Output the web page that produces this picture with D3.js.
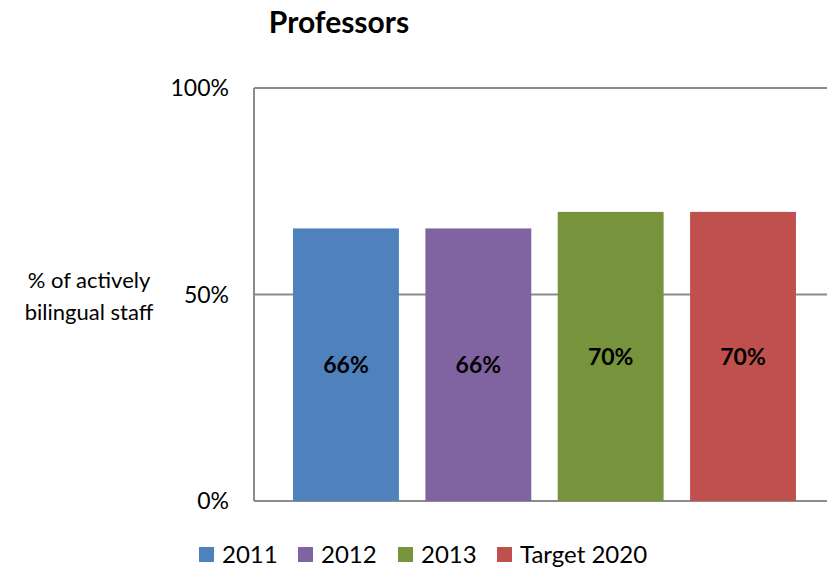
<!DOCTYPE html>
<html>
<head>
<meta charset="utf-8">
<script src="https://cdn.jsdelivr.net/npm/d3@7"></script>
<style>
  body { margin: 0; background: #fff; }
  svg { font-family: Lato, "Liberation Sans", sans-serif; }
</style>
</head>
<body>
<div id="chart"></div>
<script>
// chart data
var categories = ["2011", "2012", "2013", "Target 2020"];
var values = [66, 66, 70, 70];
var colors = ["#4F81BD", "#8064A2", "#77933C", "#C0504D"];
var yTicks = [0, 50, 100];

var width = 827, height = 569;
var plot = {left: 254, right: 835, top: 88, bottom: 501};

var svg = d3.select("#chart").append("svg")
	.attr("width", width)
	.attr("height", height);

var x = d3.scaleBand()
	.domain(categories)
	.range([plot.left, plot.right])
	.paddingInner(0.2)
	.paddingOuter(0.295);

var y = d3.scaleLinear()
	.domain([0, 100])
	.range([plot.bottom, plot.top]);

// title
svg.append("text")
	.attr("x", 339)
	.attr("y", 33)
	.attr("text-anchor", "middle")
	.style("font-size", "30px")
	.style("font-weight", "bold")
	.text("Professors");

// gridlines
svg.append("g")
	.selectAll("line")
	.data(yTicks)
	.enter().append("line")
	.attr("x1", plot.left)
	.attr("x2", plot.right)
	.attr("y1", function (d) { return y(d); })
	.attr("y2", function (d) { return y(d); })
	.attr("stroke", "#8c8c8c")
	.attr("stroke-width", 2);

// left axis line
svg.append("line")
	.attr("x1", plot.left)
	.attr("x2", plot.left)
	.attr("y1", y(100))
	.attr("y2", y(0))
	.attr("stroke", "#8c8c8c")
	.attr("stroke-width", 2);

// tick labels
svg.append("g")
	.selectAll("text")
	.data(yTicks)
	.enter().append("text")
	.attr("x", 229)
	.attr("y", function (d) { return y(d); })
	.attr("dy", "0.35em")
	.attr("text-anchor", "end")
	.style("font-size", "23px")
	.text(function (d) { return d + "%"; });

// y axis title
var yt = svg.append("text")
	.attr("text-anchor", "middle")
	.style("font-size", "22px");
yt.append("tspan").attr("x", 89).attr("y", 288).text("% of actively");
yt.append("tspan").attr("x", 89).attr("y", 320).text("bilingual staff");

// bars
svg.append("g")
	.selectAll("rect")
	.data(values)
	.enter().append("rect")
	.attr("x", function (d, i) { return x(categories[i]); })
	.attr("y", function (d) { return y(d); })
	.attr("width", x.bandwidth())
	.attr("height", function (d) { return y(0) - y(d); })
	.attr("fill", function (d, i) { return colors[i]; });

// value labels
svg.append("g")
	.selectAll("text")
	.data(values)
	.enter().append("text")
	.attr("x", function (d, i) { return x(categories[i]) + x.bandwidth() / 2; })
	.attr("y", function (d) { return (y(d) + y(0)) / 2; })
	.attr("dy", "0.35em")
	.attr("text-anchor", "middle")
	.style("font-size", "23px")
	.style("font-weight", "bold")
	.text(function (d) { return d + "%"; });

// legend
var legendX = [199, 298, 398, 497];
var lg = svg.append("g")
	.selectAll("g")
	.data(categories)
	.enter().append("g")
	.attr("transform", function (d, i) { return "translate(" + legendX[i] + ",547)"; });
lg.append("rect")
	.attr("width", 15)
	.attr("height", 15)
	.attr("fill", function (d, i) { return colors[i]; });
lg.append("text")
	.attr("x", 23)
	.attr("y", 8)
	.attr("dy", "0.35em")
	.style("font-size", "24px")
	.text(function (d) { return d; });
</script>
</body>
</html>
